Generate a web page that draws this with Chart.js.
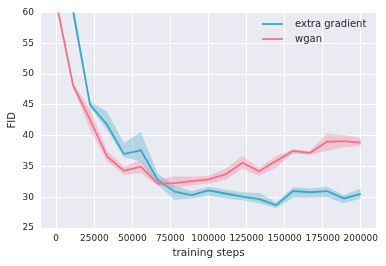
<!DOCTYPE html>
<html>
<head>
<meta charset="utf-8">
<script src="https://cdn.jsdelivr.net/npm/chart.js@4.4.1/dist/chart.umd.min.js"></script>
<style>
  html, body { margin: 0; padding: 0; background: #ffffff; }
  #wrap { width: 386px; height: 266px; position: relative; }
</style>
</head>
<body>
<div id="wrap"><canvas id="c" width="386" height="266"></canvas></div>
<script>
// ---- data ----
const steps = [0, 11111, 22222, 33333, 44444, 55556, 66667, 77778, 88889, 100000,
               111111, 122222, 133333, 144444, 155556, 166667, 177778, 188889, 200000];

const seriesNames = ["extra gradient", "wgan"];

const extraGradMean  = [95, 60.2, 45.0, 41.8, 37.0, 37.6, 32.8, 30.9, 30.35, 31.1, 30.6, 30.1, 29.7, 28.7, 31.0, 30.8, 31.0, 29.8, 30.55];
const extraGradUpper = [100, 61.5, 45.5, 43.9, 38.8, 40.6, 33.8, 31.8, 31.0, 31.7, 31.2, 30.8, 30.7, 29.2, 31.6, 31.4, 31.7, 30.3, 31.4];
const extraGradLower = [90, 59.0, 44.6, 40.9, 36.5, 35.8, 32.0, 29.6, 29.8, 30.3, 29.8, 29.5, 29.0, 28.2, 29.9, 29.9, 30.0, 29.0, 29.8];

const wganMean  = [61.7, 48.1, 42.6, 36.6, 34.3, 34.95, 32.2, 32.3, 32.6, 32.9, 33.7, 35.6, 34.2, 35.9, 37.5, 37.2, 39.0, 39.1, 38.85];
const wganUpper = [62.5, 48.5, 44.3, 37.6, 35.0, 36.0, 32.8, 33.4, 33.3, 33.5, 34.6, 36.7, 34.8, 36.7, 37.8, 37.5, 40.3, 40.1, 39.6];
const wganLower = [61.0, 47.7, 41.0, 35.8, 33.6, 33.9, 31.9, 31.5, 31.9, 32.2, 32.8, 34.6, 33.5, 34.8, 37.2, 36.9, 37.5, 38.1, 38.3];

const xTicks = [0, 25000, 50000, 75000, 100000, 125000, 150000, 175000, 200000];
const xTickLabels = ["0", "25000", "50000", "75000", "100000", "125000", "150000", "175000", "200000"];
const yTicks = [25, 30, 35, 40, 45, 50, 55, 60];
const yTickLabels = ["25", "30", "35", "40", "45", "50", "55", "60"];
const xTitle = "training steps";
const yTitle = "FID";

// ---- styles ----
const BLUE = "#39a7c7";
const BLUE_BAND = "rgba(57,167,199,0.32)";
const RED = "#f4708a";
const RED_BAND = "rgba(244,112,138,0.3)";
const TEXT = "#262626";
const FONT = "'DejaVu Sans', sans-serif";

const pts = arr => arr.map((v, i) => ({ x: steps[i], y: v }));

const bandDs = (data, color, order, fill) => ({
  data: pts(data), borderWidth: 0, pointRadius: 0, backgroundColor: color,
  borderColor: 'rgba(0,0,0,0)', fill: fill, order: order, clip: 0, isBand: true, tension: 0
});

const datasets = [
  bandDs(extraGradLower, BLUE_BAND, 6, false),
  bandDs(extraGradUpper, BLUE_BAND, 6, '-1'),
  { label: seriesNames[0], data: pts(extraGradMean), borderColor: BLUE, borderWidth: 1.8,
    pointRadius: 0, fill: false, order: 5, clip: 0, tension: 0 },
  bandDs(wganLower, RED_BAND, 4, false),
  bandDs(wganUpper, RED_BAND, 4, '-1'),
  { label: seriesNames[1], data: pts(wganMean), borderColor: RED, borderWidth: 1.8,
    pointRadius: 0, fill: false, order: 3, clip: 0, tension: 0 }
];

const bgPlugin = {
  id: 'plotBg',
  beforeDraw(chart) {
    const { ctx, chartArea: a } = chart;
    ctx.save();
    ctx.fillStyle = '#eaeaf2';
    ctx.fillRect(a.left, a.top, a.right - a.left, a.bottom - a.top);
    ctx.restore();
  }
};

const legendPlugin = {
  id: 'customLegend',
  afterDraw(chart) {
    const { ctx } = chart;
    const items = chart.data.datasets.filter(d => !d.isBand);
    ctx.save();
    ctx.font = "10px " + FONT;
    ctx.textBaseline = 'middle';
    ctx.textAlign = 'left';
    items.forEach((d, i) => {
      const y = 24 + i * 15;
      ctx.strokeStyle = d.borderColor;
      ctx.lineWidth = 1.8;
      ctx.beginPath();
      ctx.moveTo(262, y);
      ctx.lineTo(283, y);
      ctx.stroke();
      ctx.fillStyle = TEXT;
      ctx.fillText(d.label, 295, y);
    });
    ctx.restore();
  }
};

new Chart(document.getElementById('c'), {
  type: 'line',
  data: { datasets },
  options: {
    responsive: false,
    animation: false,
    layout: { padding: { left: 0, top: 10, right: 10, bottom: 0 } },
    plugins: { legend: { display: false }, tooltip: { enabled: false } },
    scales: {
      x: {
        type: 'linear', min: -10000, max: 210000,
        afterBuildTicks: ax => { ax.ticks = xTicks.map(v => ({ value: v })); },
        afterFit: ax => { ax.height = 38; },
        ticks: {
          autoSkip: false, maxRotation: 0, padding: 5, color: TEXT,
          font: { family: FONT, size: 9 },
          callback: (v) => { const i = xTicks.indexOf(v); return i >= 0 ? xTickLabels[i] : ''; }
        },
        grid: { color: '#ffffff', lineWidth: 1, drawTicks: false },
        border: { display: false },
        title: { display: true, text: xTitle, color: TEXT, font: { family: FONT, size: 10.5 },
                 padding: { top: 0, bottom: 6 } }
      },
      y: {
        type: 'linear', min: 25, max: 60,
        afterBuildTicks: ax => { ax.ticks = yTicks.map(v => ({ value: v })); },
        afterFit: ax => { ax.width = 41; },
        ticks: {
          padding: 7, color: TEXT, font: { family: FONT, size: 9 },
          callback: (v) => { const i = yTicks.indexOf(v); return i >= 0 ? yTickLabels[i] : ''; }
        },
        grid: { color: '#ffffff', lineWidth: 1, drawTicks: false },
        border: { display: false },
        title: { display: true, text: yTitle, color: TEXT, font: { family: FONT, size: 10 },
                 padding: { top: 6, bottom: 0 } }
      }
    }
  },
  plugins: [bgPlugin, legendPlugin]
});
</script>
</body>
</html>
